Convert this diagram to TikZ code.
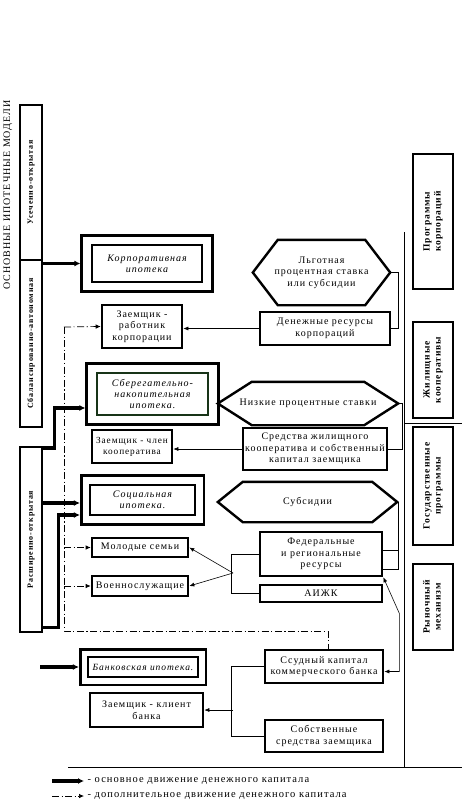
\documentclass[tikz,border=0pt]{standalone}
\usepackage{fontspec}
\setmainfont{Liberation Serif}[LetterSpace=10]
\usetikzlibrary{arrows.meta, fit, calc}
\definecolor{sbergreen}{RGB}{24,52,24}
% hexagon round a text node: name, tip length
\newcommand{\hexframe}[2]{%
  \draw[hexline] ([xshift=#2]#1.north west) -- ([xshift=-#2]#1.north east) -- (#1.east)
    -- ([xshift=-#2]#1.south east) -- ([xshift=#2]#1.south west) -- (#1.west) -- cycle;}

\begin{document}
\begin{tikzpicture}[x=1pt, y=-1pt, >=Latex,
  txt/.style={font=\fontsize{10}{11.5}\selectfont},
  box/.style={draw, line width=2.6pt, align=center, inner sep=1pt, txt},
  sidebox/.style={draw, line width=2.6pt, align=center, inner sep=0pt,
    font=\fontsize{8}{10}\selectfont\bfseries},
  srcbox/.style={sidebox, font=\fontsize{9.5}{11}\selectfont\bfseries},
  ipobox/.style={draw, line width=2.6pt, align=center, inner sep=1pt,
    font=\fontsize{10}{11}\selectfont\itshape},
  ipoframe/.style={draw, line width=2.6pt},
  hexnode/.style={align=center, inner sep=0pt, txt},
  hexline/.style={line width=2.4pt, line join=miter},
  link/.style={line width=0.6pt},
  linkarr/.style={link, -{Latex[length=5pt,width=4pt]}},
  mainarr/.style={line width=3.6pt, -{Latex[length=6pt,width=6pt]}},
  auxline/.style={line width=0.7pt, dash pattern=on 7pt off 2.5pt on 1.2pt off 2.5pt},
  auxarr/.style={auxline, -{Latex[length=5pt,width=4.5pt]}}]
  \useasboundingbox (0,0) rectangle (462,805);
  % Title
  \node[rotate=90, font=\fontsize{10}{12}\selectfont] (title) at (8,195) {ОСНОВНЫЕ ИПОТЕЧНЫЕ МОДЕЛИ};
  % Models
  \node[sidebox, minimum width=22pt, minimum height=155pt] (usech) at (31,182.5)
    {\rotatebox{90}{Усеченно-открытая}};
  \node[sidebox, minimum width=22pt, minimum height=167pt] (sbal) at (31,343.5)
    {\rotatebox{90}{Сбалансированно-автономная}};
  \node[sidebox, minimum width=22pt, minimum height=185pt] (rassh) at (31,539.5)
    {\rotatebox{90}{Расширенно-открытая}};
  % Sources
  \node[srcbox, minimum width=40pt, minimum height=135pt] (progk) at (433,221.5)
    {\rotatebox{90}{\begin{tabular}{@{}c@{}}Программы\\корпораций\end{tabular}}};
  \node[srcbox, minimum width=40pt, minimum height=96pt] (zhil) at (433,370)
    {\rotatebox{90}{\begin{tabular}{@{}c@{}}Жилищные\\кооперативы\end{tabular}}};
  \node[srcbox, minimum width=40pt, minimum height=118pt] (gos) at (433,486)
    {\rotatebox{90}{\begin{tabular}{@{}c@{}}Государственные\\программы\end{tabular}}};
  \node[srcbox, minimum width=40pt, minimum height=86pt] (rynok) at (433,607)
    {\rotatebox{90}{\begin{tabular}{@{}c@{}}Рыночный\\механизм\end{tabular}}};
  \draw[link] (404,232) -- (404,767);
  \draw[link] (404,423) -- (462,423);
  \draw[link] (68,767) -- (462,767);
  % Corporate
  \node[ipobox, minimum width=110pt, minimum height=37pt] (corp) at (147,263.5) {Корпоративная\\ипотека};
  \node[ipoframe, inner xsep=9pt, inner ysep=8pt, fit=(corp)] (corpo) {};
  \node[box, minimum width=80pt, minimum height=43pt] (zrab) at (142,326.5) {Заемщик -\\работник\\корпорации};
  \node[hexnode, minimum width=137pt, minimum height=65pt] (lgot) at (321.5,272.5)
    {Льготная\\процентная ставка\\или субсидии};
  \hexframe{lgot}{25pt}
  \node[box, minimum width=130pt, minimum height=33pt] (denres) at (325,328.5) {Денежные ресурсы\\корпораций};
  % Savings
  \node[ipobox, draw=sbergreen, minimum width=111pt, minimum height=42pt] (sber) at (152.5,394)
    {Сберегательно-\\накопительная\\ипотека.};
  \node[ipoframe, inner xsep=9pt, inner ysep=8pt, fit=(sber)] (sbero) {};
  \node[box, minimum width=80pt, minimum height=33pt, font=\fontsize{9.3}{11}\selectfont] (zchlen) at (132,446.5)
    {Заемщик - член\\кооператива};
  \node[hexnode, minimum width=180pt, minimum height=43pt] (nizk) at (308,403.5) {Низкие процентные ставки};
  \hexframe{nizk}{34pt}
  \node[box, minimum width=144pt, minimum height=42pt] (sredst) at (315,449)
    {Средства жилищного\\кооператива и собственный\\капитал заемщика};
  % Social
  \node[ipobox, minimum width=105pt, minimum height=30pt] (soc) at (142.5,500) {Социальная\\ипотека.};
  \node[ipoframe, inner xsep=7.5pt, inner ysep=8pt, fit=(soc)] (soco) {};
  \node[hexnode, minimum width=179pt, minimum height=40pt] (subs) at (307.5,502) {Субсидии};
  \hexframe{subs}{25pt}
  \node[box, minimum width=96pt, minimum height=19pt] (molod) at (140,547.5) {Молодые семьи};
  \node[box, minimum width=96pt, minimum height=20pt] (voen) at (140,586) {Военнослужащие};
  \node[box, minimum width=122pt, minimum height=44pt] (fed) at (321,554) {Федеральные\\и региональные\\ресурсы};
  \node[box, minimum width=122pt, minimum height=17pt] (aizhk) at (321,593.5) {АИЖК};
  % Bank
  \node[ipobox, minimum width=110pt, minimum height=20pt, font=\fontsize{9.5}{11}\selectfont\itshape] (bank) at (143,667)
    {Банковская ипотека.};
  \node[ipoframe, inner xsep=6.5pt, inner ysep=6.5pt, fit=(bank)] (banko) {};
  \node[box, minimum width=113pt, minimum height=34pt] (zklient) at (146.5,710) {Заемщик - клиент\\банка};
  \node[box, minimum width=118pt, minimum height=33pt] (ssud) at (324,666.5) {Ссудный капитал\\коммерческого банка};
  \node[box, minimum width=118pt, minimum height=32pt] (sobstv) at (324,736) {Собственные\\средства заемщика};
  % Main flows
  \draw[mainarr] (corpo.west -| sbal.east) -- (corpo.west);
  \draw[mainarr] ([yshift=-2pt]rassh.north east) -- ++(11,0) |- ([yshift=-14pt]sbero.west);
  \draw[mainarr] ([yshift=-3pt]soco.west -| rassh.east) -- ([yshift=-3pt]soco.west);
  \draw[mainarr] ([yshift=6pt]rassh.south east) -- ++(15,0) |- ([yshift=-15pt]soco.west);
  \coordinate (bstart) at (40,667);
  \draw[mainarr] (bstart) -- (banko.west);
  % Additional flows
  \coordinate (dtop) at (64,327);
  \coordinate (dbot) at (64,631);
  \draw[auxarr] (dtop) -- (zrab.west);
  \draw[auxline] (dtop) -- (dbot) -| ([xshift=4pt]ssud.north);
  \draw[auxarr] (dtop |- molod.west) -- (molod.west);
  \draw[auxarr] (dtop |- voen.west) -- (voen.west);
  % Resources
  \draw[linkarr] (denres.west) -- (denres.west -| zrab.east);
  \draw[link] (lgot.east) -- ++(8,0) |- (denres.east);
  \draw[linkarr] (sredst.west) -- (sredst.west -| zchlen.east);
  \draw[link] (nizk.east) -- ++(4,0) |- (sredst.east);
  \draw[link] (subs.east) -- ++(1,0) |- ([yshift=-15pt]fed.east);
  \draw[link] ([yshift=4pt]fed.east) -- ++(16,0);
  \draw[link, {Latex[length=5pt,width=4pt]}-{Latex[length=5pt,width=4pt]}]
    (fed.south east) -- ++(16,36) |- ([yshift=-5pt]ssud.east);
  \draw[link] (fed.west) -- ++(-27,0) |- (aizhk.west);
  \coordinate (fj) at (233,573);
  \draw[linkarr] (fj) -- (molod.east);
  \draw[linkarr] (fj) -- (voen.east);
  \draw[link] (ssud.west) -- ++(-32,0) |- (sobstv.west);
  \coordinate (bj) at (233,710);
  \draw[linkarr] (bj) -- (zklient.east);
  % Legend
  \node[anchor=west, font=\fontsize{10.5}{12}\selectfont] (lgmain) at (84,781) {- основное движение денежного капитала};
  \node[anchor=west, font=\fontsize{10.5}{12}\selectfont] (lgaux) at (84,796) {- дополнительное движение денежного капитала};
  \coordinate (lgmainst) at (52,781);
  \coordinate (lgauxst) at (52,796);
  \draw[mainarr] (lgmainst) -- (lgmain.west);
  \draw[auxarr] (lgauxst) -- (lgaux.west);
\end{tikzpicture}
\end{document}
